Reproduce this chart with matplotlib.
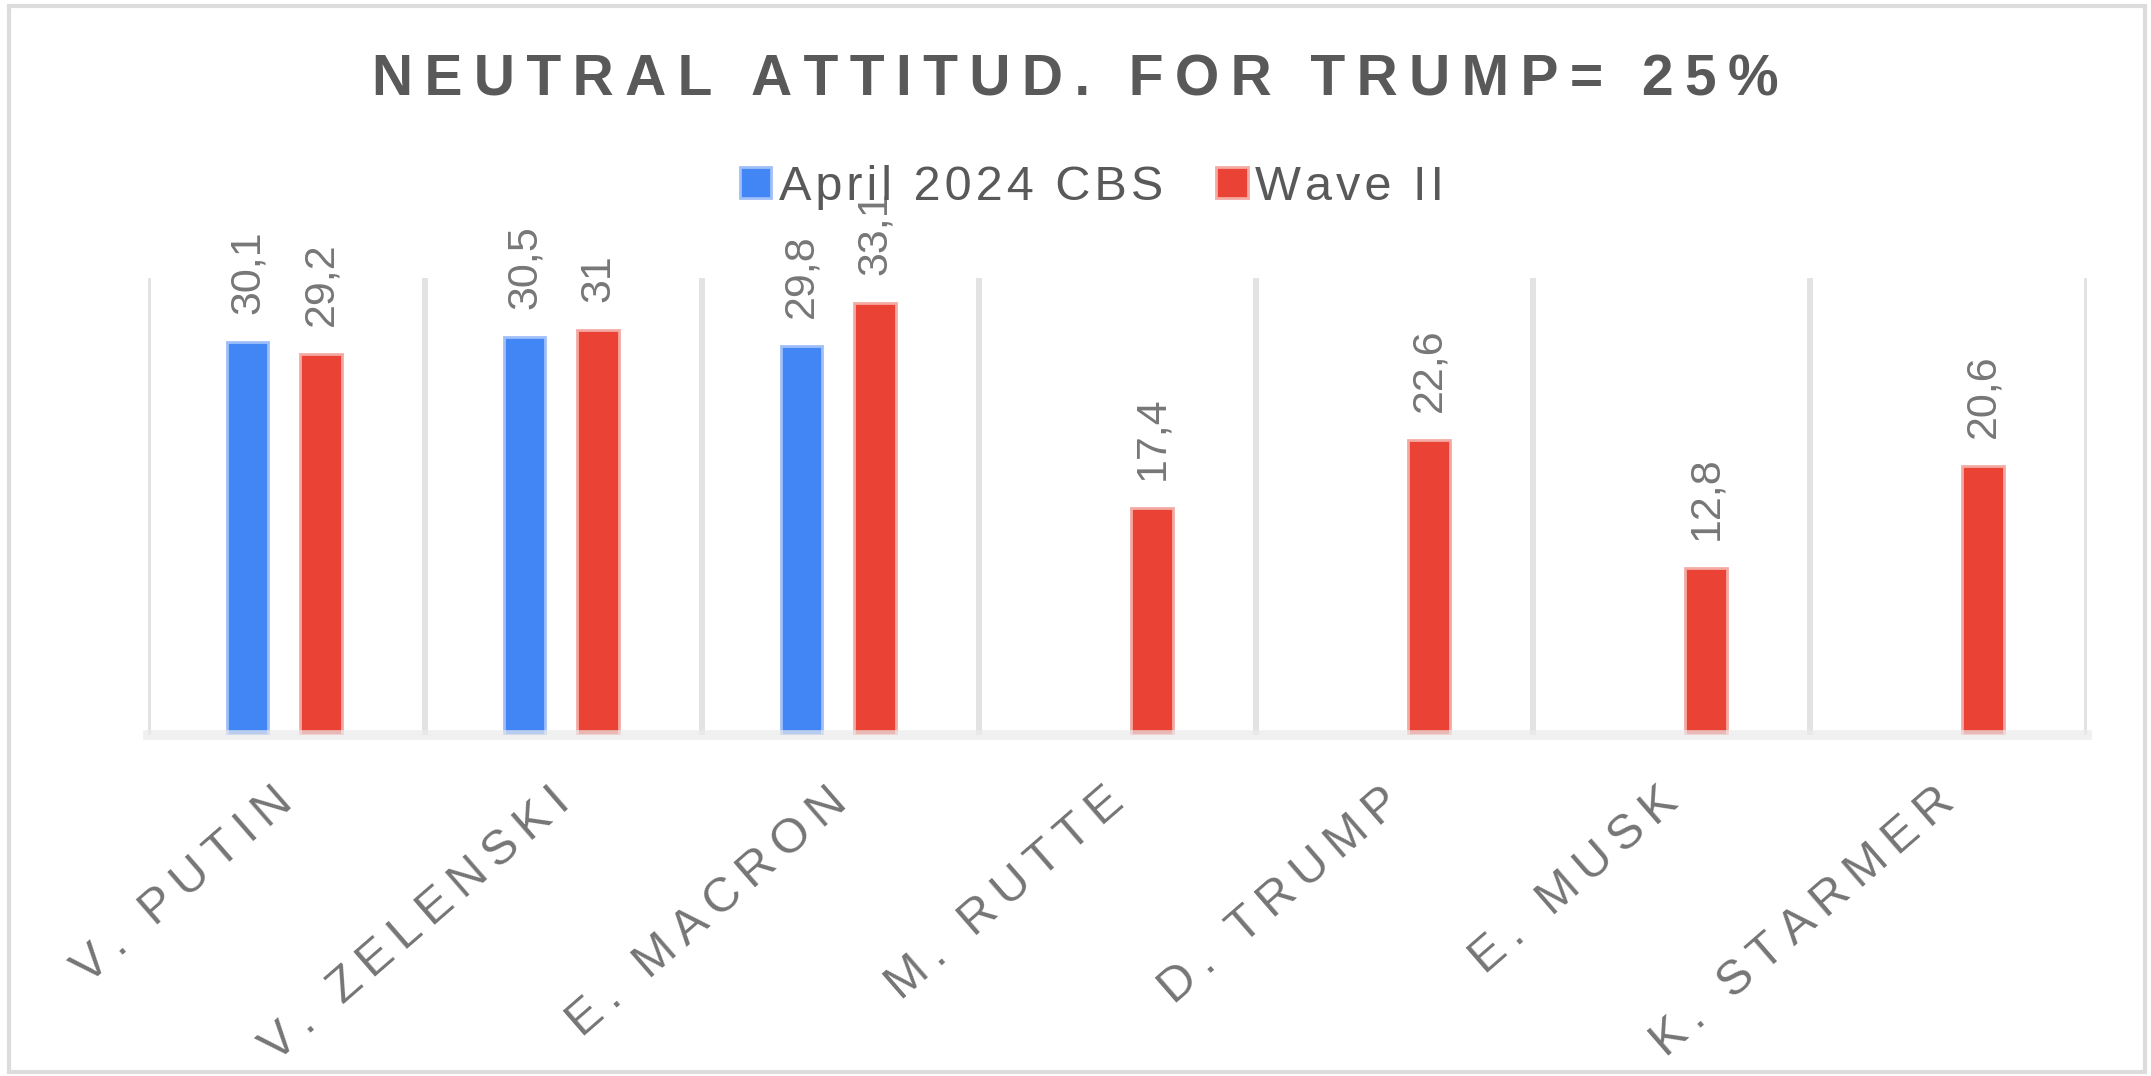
import numpy as np
import matplotlib
matplotlib.use('Agg')
import matplotlib.pyplot as plt
from matplotlib.patches import Rectangle

plt.rcParams['font.family'] = ['Liberation Sans', 'DejaVu Sans']

title = 'NEUTRAL ATTITUD. FOR TRUMP= 25%'
names = ['V. PUTIN', 'V. ZELENSKI', 'E. MACRON', 'M. RUTTE', 'D. TRUMP', 'E. MUSK', 'K. STARMER']
series_names = ['April 2024 CBS', 'Wave II']
april_2024 = [30.1, 30.5, 29.8]          # April 2024 CBS (first three only)
wave_2 = [29.2, 31, 33.1, 17.4, 22.6, 12.8, 20.6]  # Wave II


def spaced(s, sep='\u2009'):
    # letter spacing like the original
    return sep.join(s)


def fmt(v):
    return f'{v:g}'.replace('.', ',')


W, H = 2151, 1076
fig = plt.figure(figsize=(W / 100, H / 100), dpi=100)
ax = fig.add_axes([148 / W, 1 - 735 / H, (2087 - 148) / W, (735 - 278) / H])

x = np.arange(len(names))
xb = x[:len(april_2024)] - 0.14
xr = x + 0.125
ax.bar(xb, april_2024, width=0.15, color='#4285F4', edgecolor='#9fbff9',
       linewidth=2, label=spaced(series_names[0], '\u200a'), zorder=2)
ax.bar(xr, wave_2, width=0.15, color='#EA4335', edgecolor='#f4aaa4',
       linewidth=2, label=spaced(series_names[1], '\u200a'), zorder=2)

for xs, vals in [(xb, april_2024), (xr, wave_2)]:
    for xi, v in zip(xs, vals):
        ax.annotate(fmt(v), (xi, v), xytext=(0, 20), textcoords='offset points',
                    rotation=90, ha='center', va='bottom', fontsize=31, color='#777777')

# category separators + baseline
ax.set_xticks(np.arange(-0.5, len(names), 1), minor=True)
ax.grid(which='minor', axis='x', color='#e3e3e3', linewidth=4.3)
ax.set_axisbelow(True)
ax.axhline(0, color='#ebebeb', linewidth=7, alpha=0.7, zorder=3, clip_on=False)

ax.set_xlim(-0.5, len(names) - 0.5)
ax.set_ylim(0, 35)
ax.set_yticks([])
for sp in ax.spines.values():
    sp.set_visible(False)

ax.set_xticks(x)
ax.set_xticklabels([spaced(n) for n in names], rotation=41, ha='right', va='center',
                   rotation_mode='anchor', fontsize=35, color='#757575')
ax.tick_params(axis='x', which='both', length=0, pad=44)

fig.text(0.5, 1 - 81 / H, spaced(title), ha='center', va='center',
         fontsize=41, fontweight='bold', color='#595959')

ax.legend(loc='center', bbox_to_anchor=(1092 / W, 1 - 187 / H), bbox_transform=fig.transFigure,
          ncol=2, frameon=False, fontsize=35, handlelength=0.65, handleheight=0.6,
          handletextpad=0.15, columnspacing=1.1, labelcolor='#595959')

fig.patches.append(Rectangle((0.004, 0.004), 0.993, 0.99, transform=fig.transFigure,
                             fill=False, edgecolor='#dcdcdc', linewidth=3))

fig.savefig('out.png', dpi=100, facecolor='white')
